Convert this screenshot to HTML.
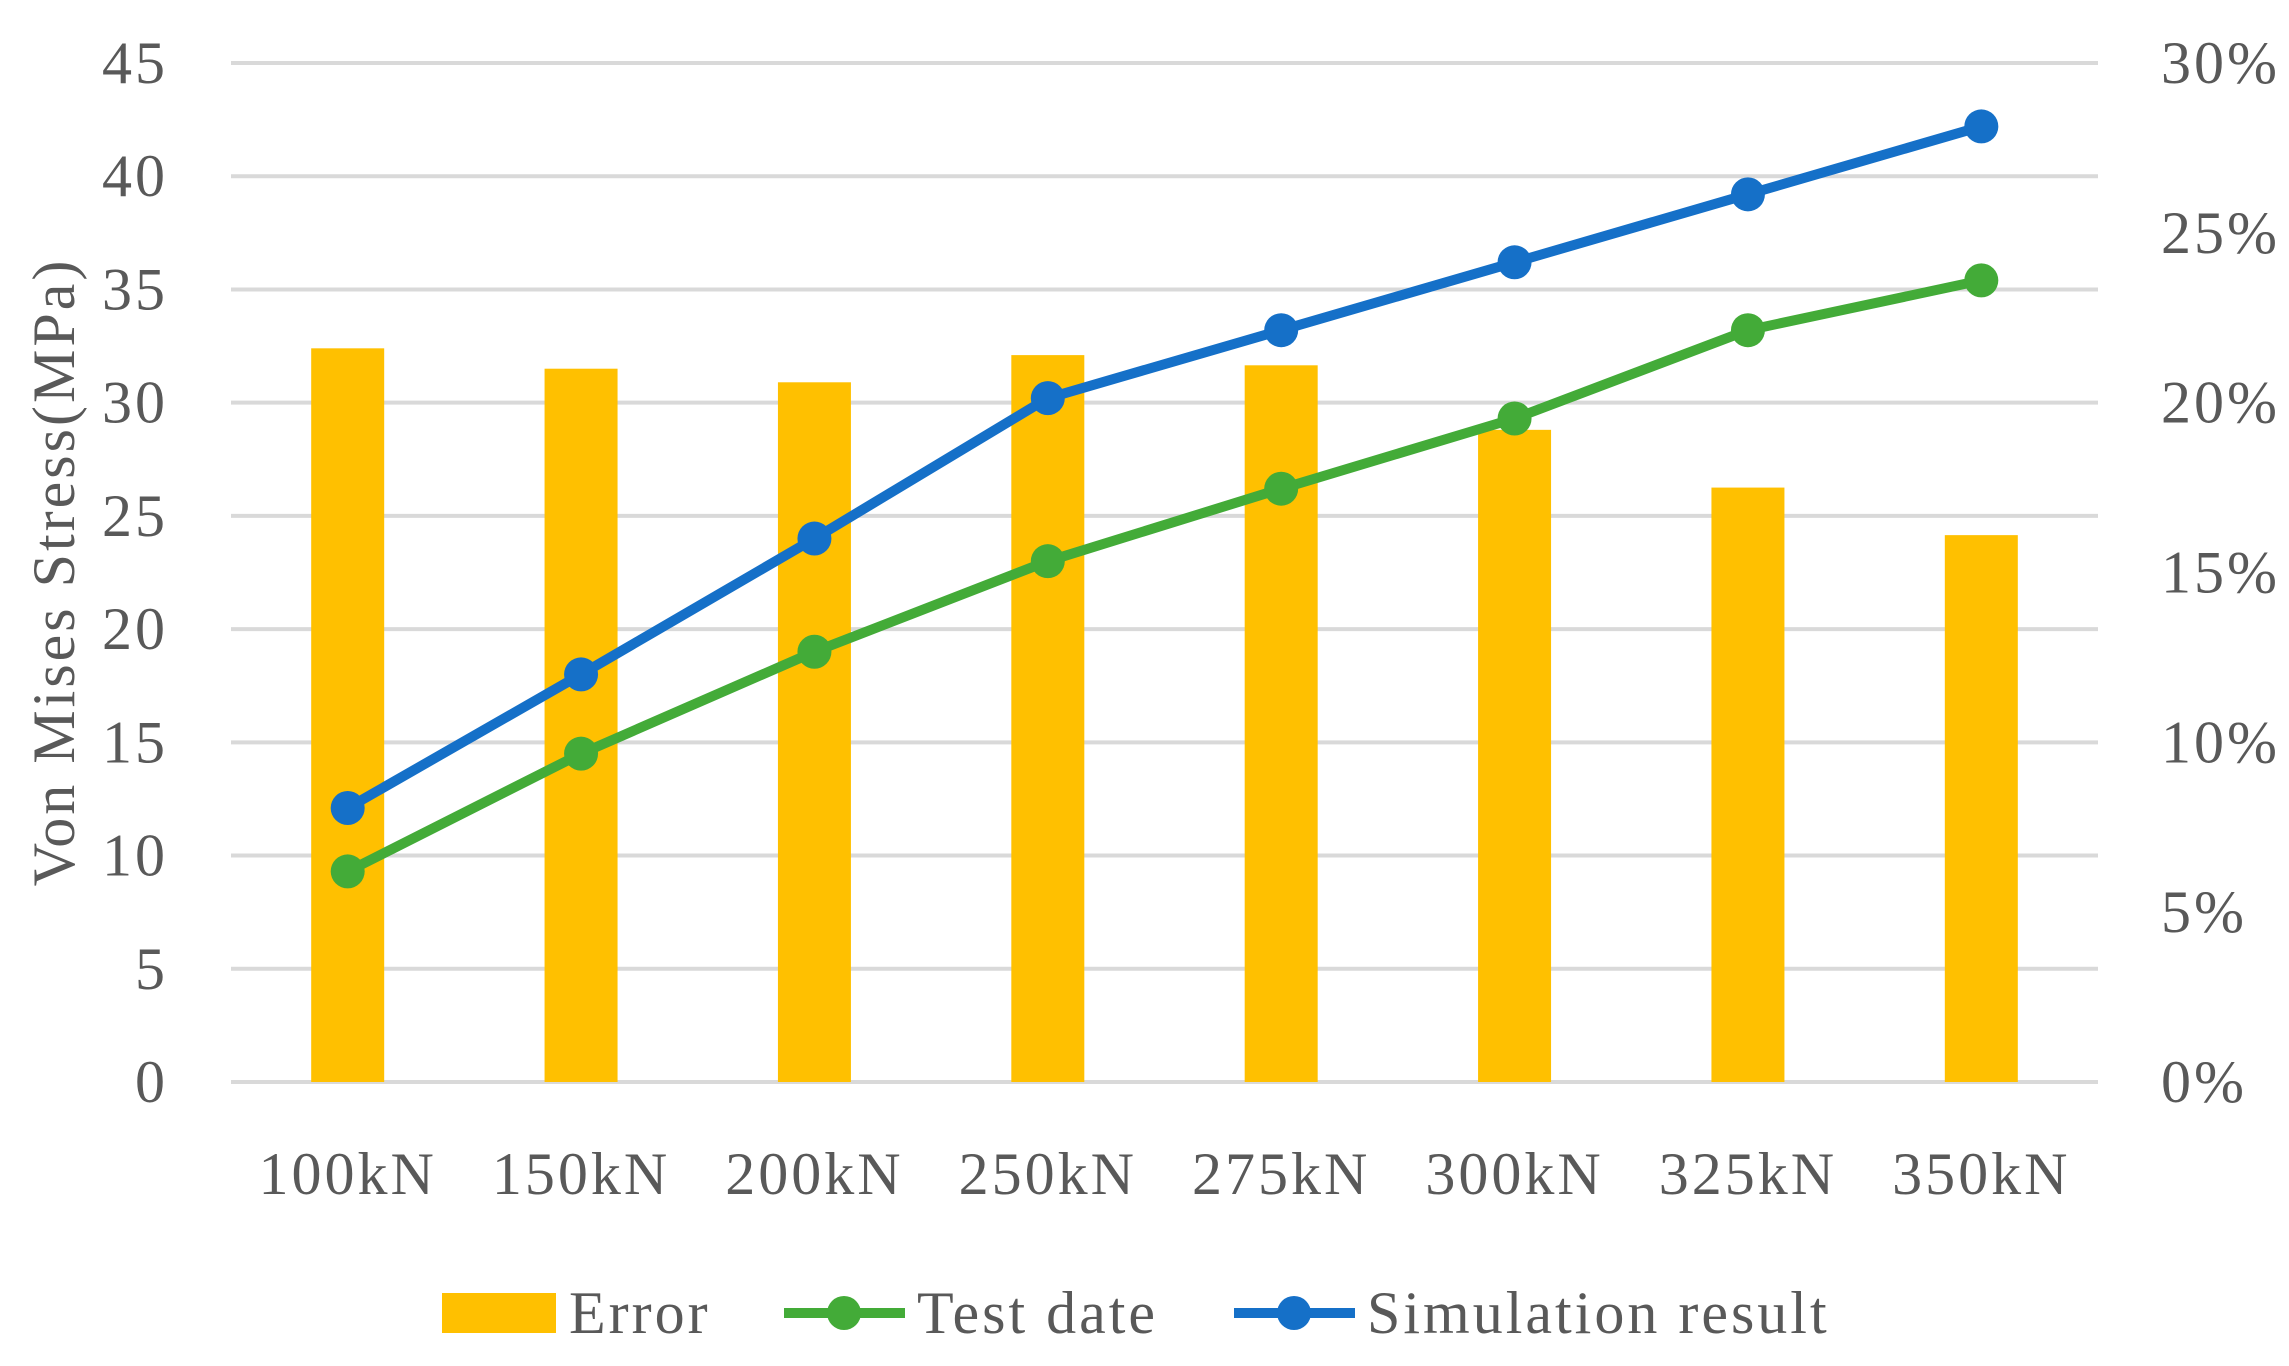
<!DOCTYPE html>
<html><head><meta charset="utf-8"><style>
html,body{margin:0;padding:0;background:#fff}
svg text{font-family:"Liberation Serif",serif;fill:#595959;letter-spacing:3px}
</style></head><body>
<svg id="chart" width="2289" height="1361" viewBox="0 0 2289 1361" xmlns="http://www.w3.org/2000/svg">
<g id="grid"></g>
<g id="bars"></g>
<g id="lines"></g>
<g id="axes"></g>
<text transform="translate(74,572) rotate(-90)" text-anchor="middle" font-size="60">Von Mises Stress(MPa)</text>
<g>
  <g>
    <rect x="442" y="1293" width="114" height="40" fill="#FFC000"/>
    <text x="569" y="1333" font-size="60">Error</text>
  </g>
  <g>
    <line x1="784" y1="1313" x2="905" y2="1313" stroke="#43AB38" stroke-width="10"/>
    <circle cx="844" cy="1313" r="17" fill="#43AB38"/>
    <text x="917" y="1333" font-size="60">Test date</text>
  </g>
  <g>
    <line x1="1234" y1="1313" x2="1355" y2="1313" stroke="#1570C8" stroke-width="10"/>
    <circle cx="1294" cy="1313" r="17" fill="#1570C8"/>
    <text x="1367" y="1333" font-size="60">Simulation result</text>
  </g>
</g>
</svg>
<script>
const categories=["100kN","150kN","200kN","250kN","275kN","300kN","325kN","350kN"];
const errorPct=[21.6,21.0,20.6,21.4,21.1,19.2,17.5,16.1];
const testData=[9.3,14.5,19.0,23.0,26.2,29.3,33.2,35.4];
const simData=[12.1,18.0,24.0,30.2,33.2,36.2,39.2,42.2];
const leftTicks=[0,5,10,15,20,25,30,35,40,45];
const rightTicks=[0,5,10,15,20,25,30];

const NS="http://www.w3.org/2000/svg";
const L=231,R=2098,T=63,B=1082;
const step=(R-L)/categories.length;
const xc=i=>L+step*(i+0.5);
const yL=v=>B-(v/45)*(B-T);
const yR=v=>B-(v/30)*(B-T);
function mk(tag,attrs,parent){const e=document.createElementNS(NS,tag);for(const k in attrs)e.setAttribute(k,attrs[k]);parent.appendChild(e);return e;}
const grid=document.getElementById('grid'),bars=document.getElementById('bars'),lines=document.getElementById('lines'),axes=document.getElementById('axes');
leftTicks.forEach(v=>{
  const g=mk('line',{x1:L,x2:R,y1:yL(v),y2:yL(v),stroke:'#d9d9d9','stroke-width':4},grid);
  
  
  const t=mk('text',{x:168,y:yL(v)+20,'text-anchor':'end','font-size':60},axes);
  t.textContent=v;
  
  
});
rightTicks.forEach(v=>{
  const t=mk('text',{x:2161,y:yR(v)+20,'text-anchor':'start','font-size':60},axes);
  t.textContent=v+'%';
  
  
});
categories.forEach((c,i)=>{
  const t=mk('text',{x:xc(i),y:1194,'text-anchor':'middle','font-size':60},axes);
  t.textContent=c;
  
  
});
errorPct.forEach((v,i)=>{
  const r=mk('rect',{x:xc(i)-36.5,y:yR(v),width:73,height:B-yR(v),fill:'#FFC000'},bars);
  
  
});
function series(data,color,name){
  const p=mk('polyline',{points:data.map((v,i)=>xc(i)+','+yL(v)).join(' '),fill:'none',stroke:color,'stroke-width':10,'stroke-linejoin':'round'},lines);
  
  
  data.forEach((v,i)=>{
    const c=mk('circle',{cx:xc(i),cy:yL(v),r:17,fill:color},lines);
    
    
  });
}
series(testData,'#43AB38','test-date');
series(simData,'#1570C8','simulation-result');
</script>
</body></html>
